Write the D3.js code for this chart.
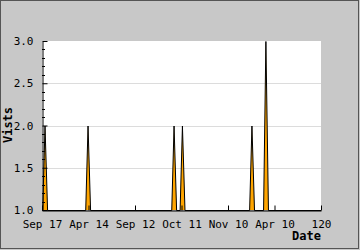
<!DOCTYPE html>
<html>
<head>
<meta charset="utf-8">
<script src="https://cdn.jsdelivr.net/npm/d3@7.9.0/dist/d3.min.js"></script>
<style>
  body { margin: 0; background: #c8c8c8; }
  svg { display: block; }
</style>
</head>
<body>
<svg id="chart" width="360" height="250"></svg>
<script>
const dayIndex = [0, 0.3, 1.3, 2.4, 18.8, 19.8, 20.9, 55.8, 56.8, 57.9, 59.4, 60.4, 61.5, 89.3, 90.3, 91.4, 95.3, 96.3, 97.4, 120];
const visits   = [1, 1,   2,   1,   1,    2,    1,    1,    2,    1,    1,    2,    1,    1,    2,    1,    1,    3,    1,    1];
const xTickValues = [0, 20, 40, 60, 80, 100, 120];
const xTickLabels = ["Sep 17", "Apr 14", "Sep 12", "Oct 11", "Nov 10", "Apr 10", "120"];
const yTickValues = [1.0, 1.5, 2.0, 2.5, 3.0];

const svg = d3.select("#chart");
const W = 360, H = 250;
const margin = { top: 41, right: 39, bottom: 40, left: 42 };
const width = W - margin.left - margin.right;
const height = H - margin.top - margin.bottom;
const mono = "'DejaVu Sans Mono', monospace";

svg.append("rect")
  .attr("x", 0.5).attr("y", 0.5)
  .attr("width", W - 2).attr("height", H - 2)
  .attr("fill", "#c8c8c8")
  .attr("stroke", "#555");

const g = svg.append("g")
  .attr("transform", `translate(${margin.left},${margin.top})`);

g.append("rect")
  .attr("width", width).attr("height", height)
  .attr("fill", "#fff");

const x = d3.scaleLinear().domain([0, 120]).range([0, width]);
const y = d3.scaleLinear().domain([1, 3]).range([height, 0]);

// grid
g.selectAll("line.grid")
  .data(yTickValues.filter(v => v > 1 && v < 3))
  .enter().append("line")
  .attr("x1", 0).attr("x2", width)
  .attr("y1", d => Math.round(y(d)) + 0.5)
  .attr("y2", d => Math.round(y(d)) + 0.5)
  .attr("stroke", "#dcdcdc");

const data = dayIndex.map((d, i) => ({ day: d, v: visits[i] }));

g.append("path")
  .datum(data)
  .attr("fill", "#ffa500")
  .attr("d", d3.area().x(d => x(d.day)).y0(height).y1(d => y(d.v)));

g.append("path")
  .datum(data)
  .attr("transform", "translate(0,0.5)")
  .attr("fill", "none")
  .attr("stroke", "#000")
  .attr("stroke-width", 1)
  .attr("d", d3.line().x(d => x(d.day)).y(d => y(d.v)));

// y axis with inside ticks
const yAxis = g.append("g")
  .attr("transform", "translate(0.5,0)")
  .call(d3.axisLeft(y).tickValues(yTickValues).tickFormat(d3.format(".1f"))
    .tickSizeInner(-5).tickSizeOuter(0).tickPadding(9));
yAxis.selectAll("text").attr("font-family", mono).attr("font-size", 11).attr("fill", "#000");
yAxis.select(".domain").attr("stroke", "#000");

const yMinor = d3.range(10, 31).map(v => v / 10).filter(v => !yTickValues.includes(v));
g.append("g").selectAll("line")
  .data(yMinor)
  .enter().append("line")
  .attr("x1", 0).attr("x2", 3)
  .attr("y1", d => Math.round(y(d)) + 0.5)
  .attr("y2", d => Math.round(y(d)) + 0.5)
  .attr("stroke", "#000");

// x axis with inside ticks
const xAxis = g.append("g")
  .attr("transform", `translate(0,${height + 0.5})`)
  .call(d3.axisBottom(x).tickValues(xTickValues).tickFormat((d, i) => xTickLabels[i])
    .tickSizeInner(-5).tickSizeOuter(0).tickPadding(10));
xAxis.selectAll("text").attr("font-family", mono).attr("font-size", 11).attr("fill", "#000");
xAxis.select(".domain").attr("stroke", "#000");

svg.append("text")
  .attr("transform", "translate(12,125) rotate(-90)")
  .attr("text-anchor", "middle")
  .attr("font-family", mono)
  .attr("font-weight", "bold")
  .attr("font-size", 12)
  .text("Vists");

svg.append("text")
  .attr("x", 321).attr("y", 240)
  .attr("text-anchor", "end")
  .attr("font-family", mono)
  .attr("font-weight", "bold")
  .attr("font-size", 12)
  .text("Date");
</script>
</body>
</html>
